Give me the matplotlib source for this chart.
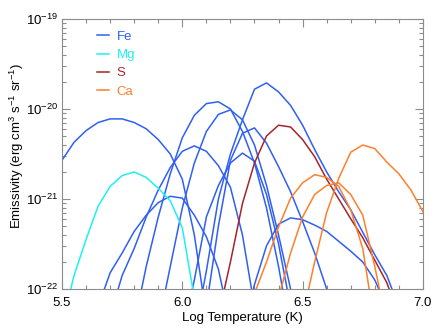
import matplotlib
matplotlib.use("Agg")
import matplotlib.pyplot as plt
from matplotlib.ticker import MultipleLocator, LogLocator, NullFormatter
import numpy as np

plt.rcParams['font.family'] = ['Liberation Sans', 'DejaVu Sans']
plt.rcParams['mathtext.fontset'] = 'custom'
plt.rcParams['mathtext.rm'] = 'Liberation Sans'

# log10 temperature / log10 emissivity
fe_curves = [
    ([5.50, 5.55, 5.60, 5.65, 5.70, 5.75, 5.80, 5.85, 5.90, 5.95, 6.00, 6.05, 6.10],
     [-20.57, -20.37, -20.24, -20.15, -20.11, -20.11, -20.15, -20.22, -20.34, -20.50, -20.78, -21.40, -22.30]),
    ([5.65, 5.70, 5.75, 5.80, 5.85, 5.90, 5.95, 6.00, 6.05, 6.10, 6.15, 6.20],
     [-22.20, -21.82, -21.60, -21.36, -21.18, -21.04, -20.97, -20.99, -21.18, -21.42, -21.78, -22.40]),
    ([5.70, 5.75, 5.80, 5.85, 5.90, 5.95, 6.00, 6.05, 6.10, 6.15, 6.20, 6.25, 6.30],
     [-22.30, -21.85, -21.55, -21.20, -20.90, -20.65, -20.47, -20.41, -20.47, -20.63, -20.87, -21.40, -22.20]),
    ([5.80, 5.85, 5.90, 5.95, 6.00, 6.05, 6.10, 6.15, 6.20, 6.25, 6.30, 6.35, 6.40, 6.45],
     [-22.40, -21.75, -21.20, -20.72, -20.32, -20.07, -19.94, -19.92, -20.00, -20.25, -20.60, -21.10, -21.75, -22.50]),
    ([5.90, 5.95, 6.00, 6.05, 6.10, 6.15, 6.20, 6.25, 6.30, 6.35, 6.40, 6.45, 6.50],
     [-22.40, -21.75, -21.10, -20.60, -20.25, -20.06, -20.01, -20.12, -20.40, -20.85, -21.40, -22.00, -22.60]),
    ([6.05, 6.10, 6.15, 6.20, 6.25, 6.30, 6.35, 6.40, 6.45, 6.50, 6.55, 6.60, 6.65, 6.70, 6.75, 6.80, 6.85, 6.90],
     [-22.50, -21.80, -21.00, -20.50, -20.12, -19.78, -19.71, -19.81, -19.96, -20.18, -20.45, -20.70, -20.92, -21.12, -21.37, -21.62, -21.85, -22.20]),
    ([6.10, 6.15, 6.20, 6.25, 6.30, 6.35, 6.40, 6.45, 6.50, 6.55, 6.60, 6.65],
     [-22.20, -21.30, -20.57, -20.27, -20.21, -20.38, -20.64, -20.92, -21.25, -21.60, -22.00, -22.50]),
    ([6.00, 6.05, 6.10, 6.15, 6.20, 6.25, 6.30, 6.35, 6.40, 6.45],
     [-22.50, -21.90, -21.20, -20.85, -20.60, -20.49, -20.58, -20.95, -21.50, -22.20]),
    ([6.25, 6.30, 6.35, 6.40, 6.45, 6.50, 6.55, 6.60, 6.65, 6.70, 6.75, 6.80, 6.85],
     [-22.50, -21.95, -21.52, -21.28, -21.21, -21.23, -21.29, -21.36, -21.47, -21.58, -21.70, -21.90, -22.20]),
]

mg_t = [5.50, 5.55, 5.60, 5.65, 5.70, 5.75, 5.80, 5.85, 5.90, 5.95, 6.00, 6.05]
mg_e = [-22.40, -21.85, -21.45, -21.08, -20.86, -20.74, -20.70, -20.76, -20.88, -21.02, -21.32, -22.10]

s_t = [6.15, 6.20, 6.25, 6.30, 6.35, 6.40, 6.45, 6.50, 6.55, 6.60, 6.65, 6.70, 6.75, 6.80, 6.85, 6.90]
s_e = [-22.30, -21.70, -21.05, -20.60, -20.30, -20.18, -20.20, -20.34, -20.53, -20.78, -21.00, -21.22, -21.43, -21.68, -21.93, -22.30]

ca_curves = [
    ([6.50, 6.55, 6.60, 6.65, 6.70, 6.75, 6.80, 6.85, 6.90, 6.95, 7.00],
     [-22.30, -21.70, -21.15, -20.77, -20.48, -20.40, -20.44, -20.59, -20.72, -20.90, -21.14]),
    ([6.25, 6.30, 6.35, 6.40, 6.45, 6.50, 6.55, 6.60, 6.65, 6.70, 6.75, 6.80],
     [-22.60, -22.05, -21.70, -21.31, -20.99, -20.82, -20.73, -20.76, -20.86, -21.12, -21.55, -22.40]),
    ([6.35, 6.40, 6.45, 6.50, 6.55, 6.60, 6.65, 6.70, 6.75, 6.80, 6.85],
     [-22.60, -22.10, -21.60, -21.20, -20.95, -20.85, -20.82, -20.95, -21.18, -21.75, -22.40]),
]

x_ticks = [5.5, 6.0, 6.5, 7.0]
y_ticks = [1e-22, 1e-21, 1e-20, 1e-19]

c_fe = '#2f5ff5'
c_mg = '#1ff0f0'
c_s = '#a3262a'
c_ca = '#ff7f2a'

fig = plt.figure(figsize=(4.41, 3.31), dpi=100)
ax = fig.add_axes([0.1406, 0.1269, 0.959 - 0.1406, 0.9426 - 0.1269])

lw = 1.1
for i, (t, e) in enumerate(fe_curves):
    ax.plot(t, 10.0 ** np.array(e), color=c_fe, lw=lw, label='Fe' if i == 0 else None)
ax.plot(mg_t, 10.0 ** np.array(mg_e), color=c_mg, lw=lw, label='Mg')
ax.plot(s_t, 10.0 ** np.array(s_e), color=c_s, lw=lw, label='S')
for i, (t, e) in enumerate(ca_curves):
    ax.plot(t, 10.0 ** np.array(e), color=c_ca, lw=lw, label='Ca' if i == 0 else None)

ax.set_yscale('log')
ax.set_xlim(5.5, 7.0)
ax.set_ylim(1e-22, 1e-19)
ax.set_xticks(x_ticks)
ax.set_xticklabels([f'{v:.1f}' for v in x_ticks])
ax.xaxis.set_minor_locator(MultipleLocator(0.1))
ax.set_yticks(y_ticks)
ax.set_yticklabels(['10$^{\\mathregular{%d}}$' % round(np.log10(v)) for v in y_ticks])
ax.yaxis.set_minor_locator(LogLocator(base=10, subs=np.arange(2, 10)))
ax.yaxis.set_minor_formatter(NullFormatter())

ax.tick_params(which='both', direction='in', top=True, right=True, colors='0.55',
               labelcolor='black', labelsize=9.5)
ax.tick_params(which='major', length=6, width=0.8)
ax.tick_params(which='minor', length=3, width=0.8)
ax.tick_params(axis='x', pad=6)
ax.tick_params(axis='y', pad=3)
for sp in ax.spines.values():
    sp.set_color('0.55')
    sp.set_linewidth(0.8)

ax.set_xlabel('Log Temperature (K)', fontsize=9.5, labelpad=2)
ax.set_ylabel('Emissivity (erg cm$^{\\mathregular{3}}$ s$^{\\mathregular{-1}}$ sr$^{\\mathregular{-1}}$)',
              fontsize=9.5)
ax.yaxis.set_label_coords(-0.1, 0.53)

leg = ax.legend(loc='upper left', bbox_to_anchor=(0.065, 1.0), frameon=False,
                handlelength=0.9, handletextpad=0.55, labelspacing=0.45,
                fontsize=9.5, labelcolor='linecolor')

fig.savefig('out.png', dpi=100)
